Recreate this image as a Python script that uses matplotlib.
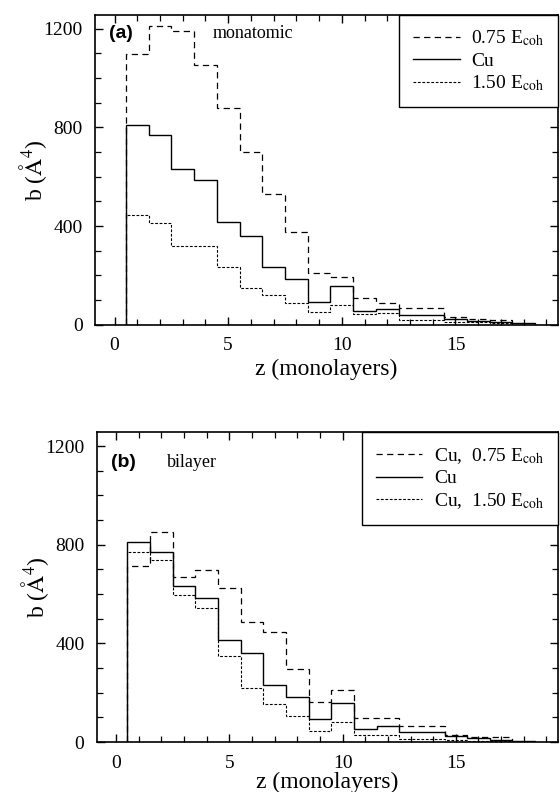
import numpy as np
import matplotlib
matplotlib.use('Agg')
import matplotlib.pyplot as plt
from matplotlib.ticker import MultipleLocator

plt.rcParams['font.family'] = ['Liberation Serif', 'DejaVu Serif']
plt.rcParams['mathtext.fontset'] = 'stix'

# bins are one monolayer wide, centred on z = 1, 2, 3, ...
cu = [811, 770, 633, 586, 415, 361, 233, 184, 94, 157, 55, 65, 41, 41, 24, 15, 10, 5]

# (a) monatomic
mono_075 = [1097, 1210, 1190, 1053, 878, 702, 528, 375, 208, 192, 110, 90, 68, 66, 30, 25, 20]
mono_150 = [446, 412, 321, 321, 234, 150, 122, 89, 50, 80, 42, 46, 20, 20, 12, 10, 8]

# (b) bilayer
bi_075 = [713, 850, 668, 699, 624, 487, 447, 295, 162, 212, 97, 97, 64, 64, 30, 22, 20]
bi_150 = [770, 738, 596, 544, 349, 219, 153, 105, 45, 80, 30, 28, 12, 12, 8, 6, 5]

labels_a = [r'0.75 E$_{\rm coh}$', 'Cu', r'1.50 E$_{\rm coh}$']
labels_b = [r'Cu,  0.75 E$_{\rm coh}$', 'Cu', r'Cu,  1.50 E$_{\rm coh}$']


def edges(vals):
    return np.arange(len(vals) + 1) + 0.5


def panel(ax, hi, lo, labels, tag, name, namex, texty, xlaby):
    ax.stairs(hi, edges(hi), baseline=0, color='black', lw=0.9, ls=(0, (5, 3.5)), label=labels[0])
    ax.stairs(cu, edges(cu), baseline=0, color='black', lw=1.0, ls='-', label=labels[1])
    ax.stairs(lo, edges(lo), baseline=0, color='black', lw=0.8, ls=(0, (2.5, 1.5)), label=labels[2])

    ax.set_xlim(-0.85, 19.5)
    ax.set_ylim(0, 1255)
    ax.xaxis.set_major_locator(MultipleLocator(5))
    ax.xaxis.set_minor_locator(MultipleLocator(1))
    ax.yaxis.set_major_locator(MultipleLocator(400))
    ax.yaxis.set_minor_locator(MultipleLocator(100))
    ax.tick_params(which='both', direction='in', top=True, right=True, labelsize=14, pad=9)
    ax.tick_params(which='major', length=6, width=1.0)
    ax.tick_params(which='minor', length=4, width=0.9)
    for s in ax.spines.values():
        s.set_linewidth(1.2)

    ax.set_xlabel('z (monolayers)', fontsize=17)
    ax.set_ylabel(r'b ($\mathrm{\AA}^{4}$)', fontsize=17)
    ax.xaxis.set_label_coords(0.5, xlaby)
    ax.yaxis.set_label_coords(-0.10, 0.5)

    ax.text(0.03, texty, tag, transform=ax.transAxes, fontsize=14, fontweight='bold',
            family='Liberation Sans', va='center')
    ax.text(namex, texty, name, transform=ax.transAxes, fontsize=13, va='center')

    leg = ax.legend(loc='upper right', borderaxespad=0, fancybox=False, framealpha=1,
                    edgecolor='black', fontsize=14, handlelength=2.4, handletextpad=0.6,
                    labelspacing=0.2, borderpad=0.7)
    leg.get_frame().set_linewidth(1.0)


fig = plt.figure(figsize=(5.6, 7.92), dpi=100)
ax1 = fig.add_axes([0.170, 0.590, 0.826, 0.391])
ax2 = fig.add_axes([0.173, 0.063, 0.823, 0.391])

panel(ax1, mono_075, mono_150, labels_a, '(a)', 'monatomic', 0.253, 0.94, -0.11)
panel(ax2, bi_075, bi_150, labels_b, '(b)', 'bilayer', 0.152, 0.903, -0.095)

fig.savefig('out.png', dpi=100)
